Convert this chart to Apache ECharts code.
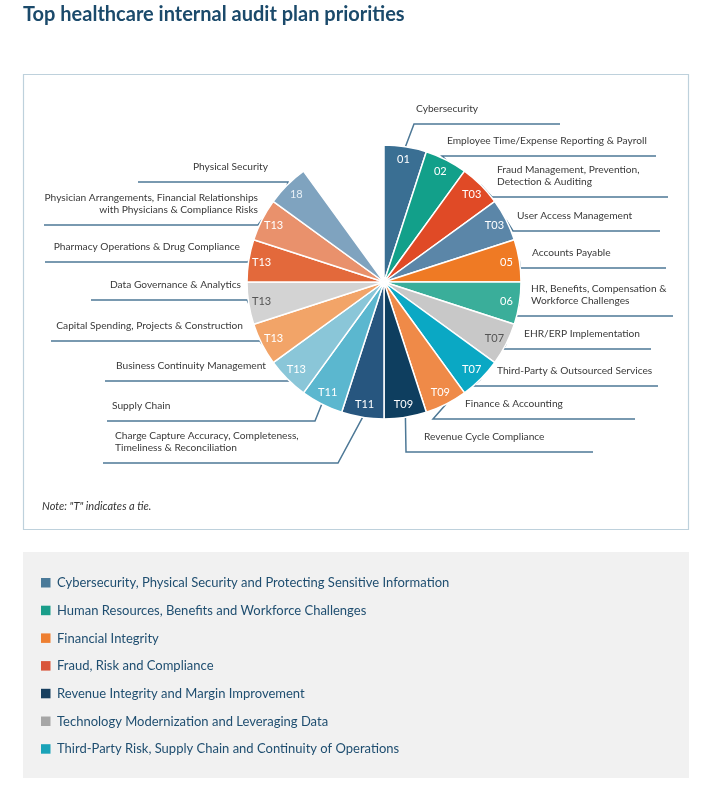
<!DOCTYPE html>
<html><head><meta charset="utf-8">
<script src="https://cdn.jsdelivr.net/npm/echarts@6/dist/echarts.min.js"></script>
<style>html,body{margin:0;padding:0;background:#fff}#c{width:712px;height:797px}</style>
</head><body><div id="c"></div>
<script>
// ---------- data ----------
const priorities = [
  'Cybersecurity',
  'Employee Time/Expense Reporting & Payroll',
  'Fraud Management, Prevention,\nDetection & Auditing',
  'User Access Management',
  'Accounts Payable',
  'HR, Benefits, Compensation &\nWorkforce Challenges',
  'EHR/ERP Implementation',
  'Third-Party & Outsourced Services',
  'Finance & Accounting',
  'Revenue Cycle Compliance',
  'Charge Capture Accuracy, Completeness,\nTimeliness & Reconciliation',
  'Supply Chain',
  'Business Continuity Management',
  'Capital Spending, Projects & Construction',
  'Data Governance & Analytics',
  'Pharmacy Operations & Drug Compliance',
  'Physician Arrangements, Financial Relationships\nwith Physicians & Compliance Risks',
  'Physical Security'
];
const ranks = ['01','02','T03','T03','05','06','T07','T07','T09','T09','T11','T11','T13','T13','T13','T13','T13','18'];
const sliceShare = [1,1,1,1,1,1,1,1,1,1,1,1,1,1,1,1,1,1];   // equal-width slices
const openGap = 2;                                           // empty wedge after rank 18
const sliceColors = ['#3a6f93','#12a08a','#e04a26','#5b86a8','#ef7a24','#3aae9a','#c8c8c8','#0aa8c4','#ef8a48','#0e3e5f',
                     '#27567f','#5bb7cf','#8ac6d8','#f2a468','#d3d3d3','#e3693b','#e9916c','#7fa3bf'];
const rankTextColors = ['#fff','#fff','#fff','#fff','#fff','#fff','#555','#fff','#fff','#fff',
                        '#fff','#fff','#fff','#fff','#555','#fff','#fff','#e8f0f6'];
const categories = [
  'Cybersecurity, Physical Security and Protecting Sensitive Information',
  'Human Resources, Benefits and Workforce Challenges',
  'Financial Integrity',
  'Fraud, Risk and Compliance',
  'Revenue Integrity and Margin Improvement',
  'Technology Modernization and Leveraging Data',
  'Third-Party Risk, Supply Chain and Continuity of Operations'
];
const categoryColors = ['#4a7a99','#1a9e8a','#ee7f31','#d9553a','#173f5f','#a6a6a6','#1aa3b8'];

// ---------- label placement (annotation layout) ----------
// [textX, align, lineY, kneeX, endX]
const labelSpots = [
  [416,'left',124,414,560],
  [447,'left',156,442,656],
  [497,'left',197,492,668],
  [517,'left',231,513,660],
  [532,'left',268,520,666],
  [531,'left',316,515,673],
  [524,'left',349,503,651],
  [497,'left',386,473,658],
  [465,'left',419,433,635],
  [424,'left',452,406,593],
  [115,'left',463,338,103],
  [112,'left',421,315,107],
  [116,'left',381,290,105],
  [243,'right',341,260,51],
  [241,'right',300,247,91],
  [240,'right',262,248,45],
  [258,'right',225,258,44],
  [268,'right',182,288,138]
];

const FONT = 'Lato, "Open Sans", sans-serif';
const center = [384, 282];

const mainData = priorities.map((n, i) => ({
  name: n, value: sliceShare[i], itemStyle: { color: sliceColors[i] }
}));
mainData.push({ name: 'gap', value: openGap, itemStyle: { color: 'rgba(0,0,0,0)', borderWidth: 0 },
  label: { show: false }, labelLine: { show: false }, emphasis: { disabled: true } });

const rankData = ranks.map((r, i) => ({
  name: r, value: sliceShare[i], label: { color: rankTextColors[i] }
}));
rankData.push({ name: '', value: openGap, label: { show: false } });

const graphics = [
  { type: 'rect', shape: { x: 23.5, y: 74.5, width: 665, height: 455 },
    style: { fill: 'none', stroke: '#bed1dc', lineWidth: 1.2 }, z: -1 },
  { type: 'text', x: 42, y: 506, style: { text: 'Note: "T" indicates a tie.', font: 'italic 11px ' + FONT,
    fill: '#333', verticalAlign: 'middle' } },
  { type: 'rect', shape: { x: 23, y: 552, width: 666, height: 226 }, style: { fill: '#f1f1f1' }, z: -1 }
];
categories.forEach((c, i) => {
  const y = 583 + i * 27.7;
  graphics.push({ type: 'rect', shape: { x: 41, y: y - 5, width: 9.5, height: 9.5 }, style: { fill: categoryColors[i] } });
  graphics.push({ type: 'text', x: 57, y: y, style: { text: c, font: '13px ' + FONT, fill: '#1f4e70', verticalAlign: 'middle' } });
});

const chart = echarts.init(document.getElementById('c'), null, { renderer: 'canvas' });
chart.setOption({
  animation: false,
  title: { text: 'Top healthcare internal audit plan priorities', left: 23, top: 5, padding: 0,
    textStyle: { fontFamily: FONT, fontSize: 20, fontWeight: 'bold', color: '#1b4a6b' } },
  graphic: graphics,
  series: [
    {
      type: 'pie', center: center, radius: [0, 137], startAngle: 90, clockwise: true,
      avoidLabelOverlap: false, silent: true,
      itemStyle: { borderColor: '#fff', borderWidth: 1.5 },
      label: { show: true, position: 'outside', fontFamily: FONT, fontSize: 10.2, lineHeight: 12.5, color: '#3a3a3a' },
      labelLine: { show: true, length: 10, length2: 10, lineStyle: { color: '#4d7896', width: 1.5 } },
      labelLayout: function (p) {
        const s = labelSpots[p.dataIndex];
        if (!s) return {};
        const pts = p.labelLinePoints;
        const start = pts ? pts[0] : [s[3], s[2]];
        return { x: s[0], y: s[2] - 9, align: s[1], verticalAlign: 'bottom',
          labelLinePoints: [start, [s[3], s[2]], [s[4], s[2]]] };
      },
      data: mainData
    },
    {
      type: 'pie', center: center, radius: [106, 136], startAngle: 90, clockwise: true,
      silent: true, z: 3,
      itemStyle: { color: 'rgba(0,0,0,0)', borderWidth: 0 },
      label: { show: true, position: 'inside', fontFamily: FONT, fontSize: 11, formatter: '{b}' },
      labelLine: { show: false },
      data: rankData
    }
  ]
});
</script></body></html>
